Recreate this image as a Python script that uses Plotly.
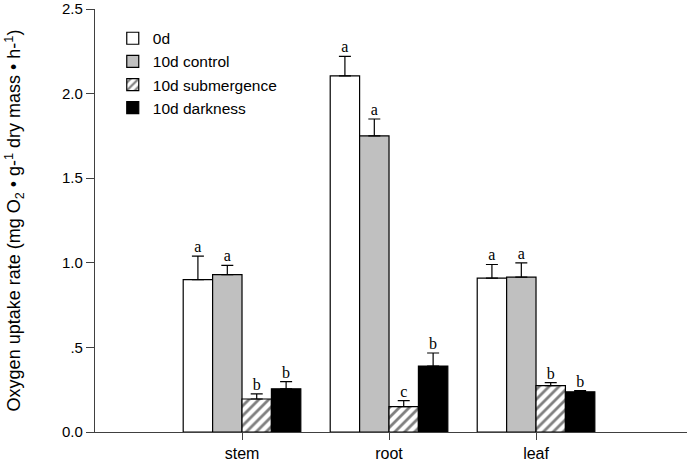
import plotly.graph_objects as go

categories = ["stem", "root", "leaf"]
cat_pos = [1, 2, 3]
series_names = ["0d", "10d control", "10d submergence", "10d darkness"]
values = {
    "0d": [0.90, 2.105, 0.91],
    "10d control": [0.93, 1.75, 0.915],
    "10d submergence": [0.195, 0.15, 0.274],
    "10d darkness": [0.255, 0.39, 0.238],
}
errors = {
    "0d": [0.14, 0.115, 0.08],
    "10d control": [0.055, 0.10, 0.085],
    "10d submergence": [0.03, 0.035, 0.018],
    "10d darkness": [0.043, 0.077, 0.007],
}
letters = {
    "0d": ["a", "a", "a"],
    "10d control": ["a", "a", "a"],
    "10d submergence": ["b", "c", "b"],
    "10d darkness": ["b", "b", "b"],
}
y_tickvals = [0, 0.5, 1.0, 1.5, 2.0, 2.5]
y_ticktext = ["0.0", ".5", "1.0", "1.5", "2.0", "2.5"]

styles = {
    "0d": dict(color="white"),
    "10d control": dict(color="#c0c0c0"),
    "10d submergence": dict(color="white", pattern=dict(shape="/", fgcolor="black", bgcolor="white", size=7, solidity=0.4)),
    "10d darkness": dict(color="black"),
}

fig = go.Figure()
bar_w = 0.2
for j, name in enumerate(series_names):
    fig.add_trace(go.Bar(
        x=cat_pos, y=values[name], name=name, width=bar_w,
        marker=dict(**styles[name], line=dict(color="black", width=1.2)),
        error_y=dict(type="data", array=errors[name], arrayminus=[0]*3, symmetric=False,
                     color="black", thickness=1.2, width=6),
    ))
for j, name in enumerate(series_names):
    off = (j - 1.5) * bar_w
    fig.add_trace(go.Scatter(
        x=[p + off for p in cat_pos],
        y=[v + e for v, e in zip(values[name], errors[name])],
        mode="text", text=letters[name], textposition="top center",
        textfont=dict(family="Liberation Serif, Times New Roman, serif", size=16, color="black"),
        showlegend=False, hoverinfo="skip", cliponaxis=False,
    ))

fig.update_layout(
    width=687, height=464,
    margin=dict(l=95, r=0, t=9, b=32),
    paper_bgcolor="white", plot_bgcolor="white",
    barmode="group", bargap=0.2,
    font=dict(family="Liberation Sans, Arial, sans-serif", size=14, color="black"),
    showlegend=True,
    legend=dict(x=0.03, y=0.97, xanchor="left", yanchor="top", bgcolor="rgba(0,0,0,0)",
                font=dict(size=15.5), tracegroupgap=0, itemwidth=30),
    xaxis=dict(range=[0, 4.027], tickvals=cat_pos, ticktext=categories,
               showgrid=False, zeroline=False, showline=True, linecolor="#404040", linewidth=1.2,
               ticks="outside", ticklen=7, tickcolor="#404040", tickfont=dict(size=16)),
    yaxis=dict(range=[0, 2.5], tickvals=y_tickvals, ticktext=y_ticktext,
               showgrid=False, zeroline=False, showline=True, linecolor="#404040", linewidth=1.2,
               ticks="outside", ticklen=8, tickcolor="#404040", tickfont=dict(size=15),
               title=dict(text="Oxygen uptake rate (mg O<sub>2</sub> • g-<sup>1</sup> dry mass • h-<sup>1</sup>)",
                          font=dict(size=18), standoff=36)),
)

fig.write_html("out.html", config={"displayModeBar": False},
               post_script="document.body.style.margin='0px';")
